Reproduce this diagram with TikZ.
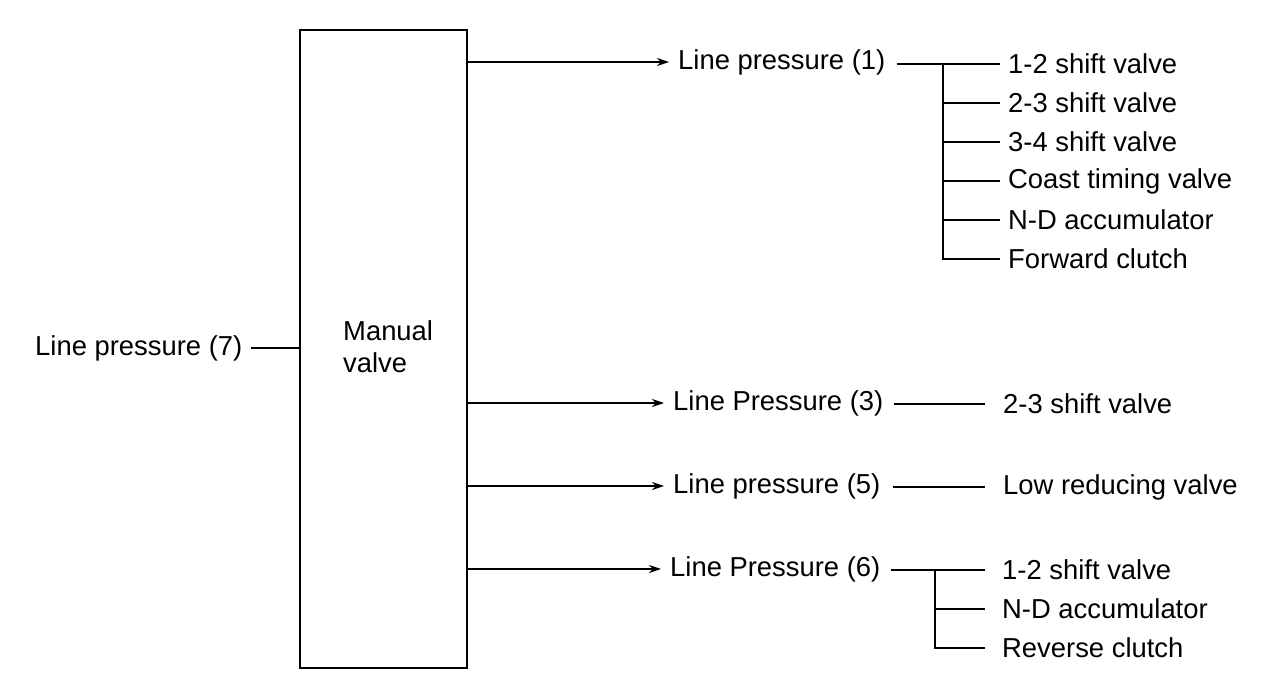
\documentclass[tikz,border=0pt]{standalone}
\usepackage{fontspec}
\setmainfont{Liberation Sans}
\usetikzlibrary{arrows.meta}
\begin{document}
\begin{tikzpicture}[x=1pt,y=-1pt,
  lbl/.style={inner sep=0pt, anchor=west, font=\fontsize{27.4}{32}\selectfont},
  ln/.style={line width=1.4pt},
  arr/.style={ln, -{Stealth[length=12pt,width=8pt]}, shorten >=9pt},
  valvebox/.style={draw, line width=2.6pt, minimum width=167pt, minimum height=638pt, inner sep=0pt}]
\useasboundingbox (0,0) rectangle (1280,700);
\node[valvebox] (box) at (383.5,349) {};
\node[lbl, align=left] (mv) at (343,347) {Manual\\valve};
\node[lbl] (lp7) at (35,348) {Line pressure (7)};
\draw[ln, shorten <=8pt] (lp7.east) -- (box.west |- lp7);
% group 1
\node[lbl] (lp1) at (678,62) {Line pressure (1)};
\node[lbl] (a1) at (1008,64) {1-2 shift valve};
\node[lbl] (a2) at (1008,103) {2-3 shift valve};
\node[lbl] (a3) at (1008,142) {3-4 shift valve};
\node[lbl] (a4) at (1008,181) {Coast timing valve};
\node[lbl] (a5) at (1008,220) {N-D accumulator};
\node[lbl] (a6) at (1008,259) {Forward clutch};
\draw[arr] (box.east |- lp1) -- (lp1.west);
\coordinate (j1) at (943,64);
\draw[ln, shorten <=11pt, shorten >=8pt] (lp1.east |- a1) -- (a1.west);
\draw[ln, shorten >=8pt] (j1) -- (j1 |- a6) -- (a6.west);
\foreach \n in {a2,a3,a4,a5} \draw[ln, shorten >=8pt] (j1 |- \n) -- (\n.west);
% group 3
\node[lbl] (lp3) at (673,403) {Line Pressure (3)};
\node[lbl] (b1) at (1003,404) {2-3 shift valve};
\draw[arr] (box.east |- lp3) -- (lp3.west);
\draw[ln, shorten <=10pt, shorten >=18pt] (lp3.east |- b1) -- (b1.west);
% group 5
\node[lbl] (lp5) at (673,486) {Line pressure (5)};
\node[lbl] (c1) at (1003,487) {Low reducing valve};
\draw[arr] (box.east |- lp5) -- (lp5.west);
\draw[ln, shorten <=12pt, shorten >=18pt] (lp5.east |- c1) -- (c1.west);
% group 6
\node[lbl] (lp6) at (670,569) {Line Pressure (6)};
\node[lbl] (d1) at (1002,570) {1-2 shift valve};
\node[lbl] (d2) at (1002,609) {N-D accumulator};
\node[lbl] (d3) at (1002,648) {Reverse clutch};
\draw[arr] (box.east |- lp6) -- (lp6.west);
\coordinate (j6) at (935,570);
\draw[ln, shorten <=10pt, shorten >=17pt] (lp6.east |- d1) -- (d1.west);
\draw[ln, shorten >=17pt] (j6) -- (j6 |- d3) -- (d3.west);
\draw[ln, shorten >=17pt] (j6 |- d2) -- (d2.west);
\end{tikzpicture}
\end{document}
